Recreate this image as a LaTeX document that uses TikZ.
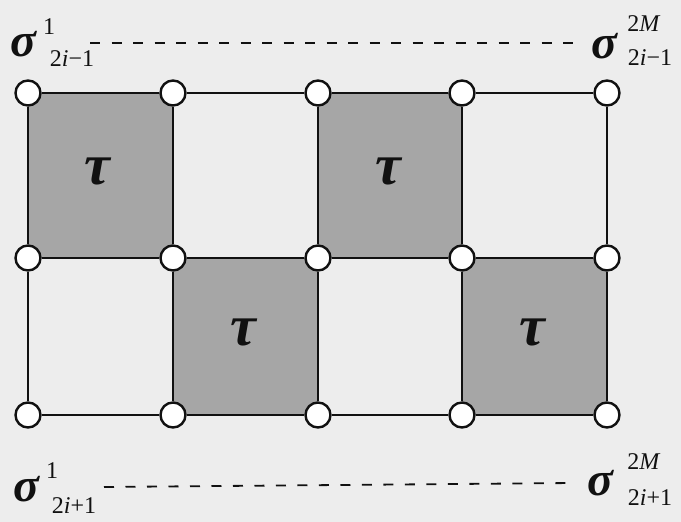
\documentclass[tikz,border=0pt]{standalone}
\usepackage{fontspec}
\setmainfont{Liberation Serif}
\definecolor{paper}{HTML}{EDEDED}
\definecolor{cellgray}{HTML}{A6A6A6}
\definecolor{ink}{HTML}{111111}
\tikzset{
  site/.style={circle, draw=ink, line width=2.4pt, fill=white, minimum size=25pt, inner sep=0pt},
  edge/.style={draw=ink, line width=2.8pt},
  cell/.style={fill=cellgray},
  dashline/.style={draw=ink, line width=1.8pt, dash pattern=on 10pt off 11.5pt},
  spin/.style={inner sep=0pt, text=ink, font=\fontsize{48}{48}\selectfont\bfseries\itshape},
  idx/.style={inner sep=0pt, text=ink, font=\fontsize{24}{24}\selectfont},
  plaq/.style={inner sep=0pt, text=ink, font=\fontsize{58}{58}\selectfont\bfseries\itshape}
}
\begin{document}
\begin{tikzpicture}[x=1pt,y=-1pt]
\fill[paper] (0,0) rectangle (681,522);
\useasboundingbox (0,0) rectangle (681,522);

% lattice positions
\foreach \c/\x in {0/28,1/173,2/318,3/462,4/607}
  \foreach \r/\y in {0/93,1/258,2/415}
    \coordinate (p\r\c) at (\x,\y);

% shaded plaquettes
\fill[cell] (p00) rectangle (p11);
\fill[cell] (p02) rectangle (p13);
\fill[cell] (p11) rectangle (p22);
\fill[cell] (p13) rectangle (p24);

% lattice sites
\foreach \c in {0,...,4}
  \foreach \r in {0,1,2}
    \node[site] (v\r\c) at (p\r\c) {};

% bonds
\foreach \r in {0,1,2}
  \foreach \a/\b in {0/1,1/2,2/3,3/4}
    \draw[edge] (v\r\a) -- (v\r\b);
\foreach \c in {0,...,4} {
  \draw[edge] (v0\c) -- (v1\c);
  \draw[edge] (v1\c) -- (v2\c);
}

% plaquette labels
\node[plaq] (t1) at (97,171) {τ};
\node[plaq] (t2) at (388,171) {τ};
\node[plaq] (t3) at (243,332) {τ};
\node[plaq] (t4) at (532,332) {τ};

% top row of spins
\node[spin] (sA) at (23,44) {σ};
\node[idx] (sAu) at (49,27) {1};
\node[idx] (sAd) at (72,59) {2\textit{i}−1};
\node[spin] (sB) at (604,46) {σ};
\node[idx] (sBu) at (644,24) {2\textit{M}};
\node[idx] (sBd) at (650,58) {2\textit{i}−1};
\coordinate (dA1) at (90,43);
\coordinate (dA2) at (573,43);
\draw[dashline] (dA1) -- (dA2);

% bottom row of spins
\node[spin] (sC) at (26,489) {σ};
\node[idx] (sCu) at (52,471) {1};
\node[idx] (sCd) at (74,506) {2\textit{i}+1};
\node[spin] (sD) at (600,483) {σ};
\node[idx] (sDu) at (644,462) {2\textit{M}};
\node[idx] (sDd) at (650,498) {2\textit{i}+1};
\coordinate (dC1) at (104,487);
\coordinate (dC2) at (573,483);
\draw[dashline] (dC1) -- (dC2);
\end{tikzpicture}
\end{document}
